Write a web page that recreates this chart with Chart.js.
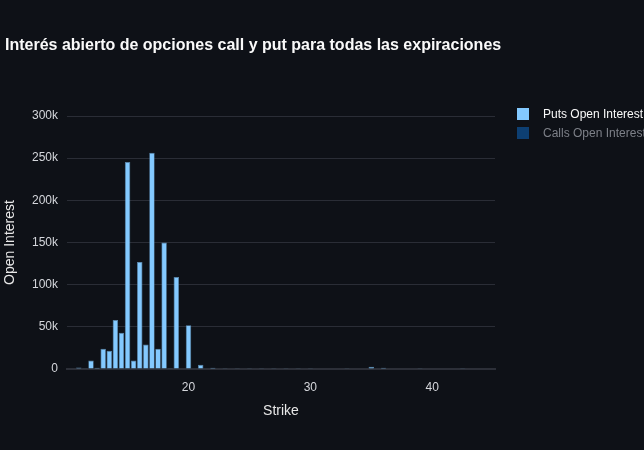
<!DOCTYPE html>
<html>
<head>
<meta charset="utf-8">
<script src="https://cdn.jsdelivr.net/npm/chart.js@4/dist/chart.umd.min.js"></script>
<style>
  html, body { margin:0; padding:0; background:#0e1117; overflow:hidden; }
  #wrap { position:relative; width:644px; height:450px; font-family:"Liberation Sans", Arial, sans-serif; }
  #title { position:absolute; left:5px; top:36px; font-size:16px; font-weight:bold; color:#fafafa; white-space:nowrap; }
  .leg { position:absolute; left:517px; font-size:12px; white-space:nowrap; }
  .leg span { display:inline-block; width:12px; height:12px; vertical-align:-2px; margin-right:14px; }
  canvas { position:absolute; left:0; top:0; }
</style>
</head>
<body>
<div id="wrap">
  <canvas id="chart" width="644" height="450"></canvas>
  <div id="title">Interés abierto de opciones call y put para todas las expiraciones</div>
  <div class="leg" id="legPuts" style="top:107px;color:#fafafa"><span style="background:#83c9ff"></span>Puts Open Interest</div>
  <div class="leg" id="legCalls" style="top:126px;color:#7d8088"><span style="background:#0d3f72"></span>Calls Open Interest</div>
</div>
<script>
const strikes = [10.5, 11, 11.5, 12, 12.5, 13, 13.5, 14, 14.5, 15, 15.5, 16, 16.5, 17, 17.5, 18, 18.5, 19,
                 20, 21, 22, 23, 24, 25, 26, 27, 28, 29, 30, 31, 32, 33, 35, 36, 39, 40, 42.5];
const putsOI = [600, 1800, 300, 10000, 1500, 24000, 21500, 58000, 43000, 245500, 10000, 127000, 29000, 256500, 24000, 150000, 900, 109000,
                52000, 5000, 1500, 900, 900, 900, 200, 200, 200, 200, 900, 500, 500, 200, 2600, 1500, 200, 500, 200];
// calls trace is switched off in the legend, nothing of it is visible
const callsOI = [];
const yTicks = [0, 50000, 100000, 150000, 200000, 250000, 300000];
const xTicks = [20, 30, 40];

const fontFam = '"Liberation Sans", Arial, sans-serif';

new Chart(document.getElementById('chart'), {
    type: 'bar',
    data: {
        datasets: [
            { label: 'Puts Open Interest',
              data: strikes.map((s, i) => ({ x: s, y: putsOI[i] })),
              backgroundColor: '#83c9ff', borderColor: '#5b88ad', borderWidth: 0.7,
              barPercentage: 0.9, categoryPercentage: 1 },
            { label: 'Calls Open Interest', data: callsOI, hidden: true,
              backgroundColor: '#0068c9' }
        ]
    },
    options: {
        responsive: false,
        animation: false,
        layout: { padding: { left: 0, right: 149, top: 116, bottom: 26 } },
        plugins: { legend: { display: false }, title: { display: false }, tooltip: { enabled: false } },
        scales: {
            x: {
                type: 'linear', min: 10.03, max: 45.15, offset: false,
                grid: { display: false, drawTicks: false },
                border: { display: true, color: '#2c2f38', width: 2 },
                ticks: { padding: 11, color: '#d5d7dc', font: { family: fontFam, size: 12 } },
                afterBuildTicks: s => { s.ticks = xTicks.map(v => ({ value: v })); },
                title: { display: true, text: 'Strike', color: '#e8e8e8', font: { family: fontFam, size: 14 }, padding: { bottom: 4 } },
                afterFit: s => { s.height = 55; }
            },
            y: {
                min: 0, max: 300000,
                grid: { color: '#2a2d36', drawTicks: false },
                border: { display: false },
                ticks: { padding: 9, color: '#d5d7dc', font: { family: fontFam, size: 12 },
                         callback: v => (v === 0 ? '0' : (v / 1000) + 'k') },
                afterBuildTicks: s => { s.ticks = yTicks.map(v => ({ value: v })); },
                title: { display: true, text: 'Open Interest', color: '#e8e8e8', font: { family: fontFam, size: 14 }, padding: { top: 2 } },
                afterFit: s => { s.width = 67; }
            }
        }
    }
});
</script>
</body>
</html>
